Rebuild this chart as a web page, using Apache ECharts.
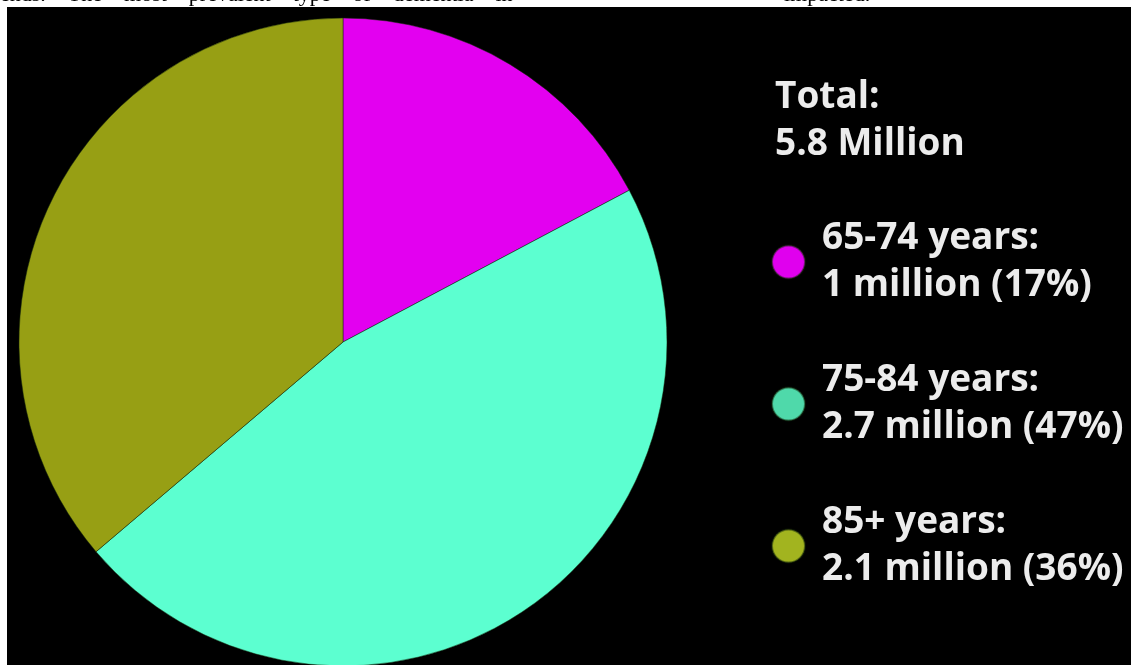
<!DOCTYPE html>
<html>
<head>
<meta charset="utf-8">
<script src="https://cdn.jsdelivr.net/npm/echarts@6/dist/echarts.min.js"></script>
<style>
html,body{margin:0;padding:0;background:#fff;}
#chart{width:1131px;height:665px;}
</style>
</head>
<body>
<div id="chart"></div>
<script>
// ---- data ----
const categories = ['65-74 years', '75-84 years', '85+ years'];
const valuesMillions = [1, 2.7, 2.1];
const valueLabels = ['1 million', '2.7 million', '2.1 million'];
const percentLabels = [17, 47, 36];
const totalLabel = '5.8 Million';
const sliceColors = ['#e300f0', '#5cffd0', '#979f14'];
const legendDotColors = ['#e000ee', '#4fd9aa', '#a2b41f'];

const chart = echarts.init(document.getElementById('chart'), null, {renderer: 'canvas'});

const textFont = '"Open Sans", Lato, sans-serif';

const option = {
  backgroundColor: '#ffffff',
  animation: false,
  title: {
    text: 'Total:\n' + totalLabel,
    left: 775,
    top: 74,
    padding: 0,
    textStyle: {
      color: '#ececec',
      fontFamily: textFont,
      fontWeight: 'bold',
      fontSize: 37,
      lineHeight: 47
    }
  },
  legend: {
    orient: 'vertical',
    left: 771,
    top: 215,
    padding: 0,
    icon: 'circle',
    itemWidth: 33,
    itemHeight: 33,
    itemGap: 48,
    selectedMode: false,
    data: categories.map((c, i) => ({name: c, itemStyle: {color: legendDotColors[i]}})),
    formatter: function (name) {
      const i = categories.indexOf(name);
      return name + ':\n' + valueLabels[i] + ' (' + percentLabels[i] + '%)';
    },
    textStyle: {
      color: '#ececec',
      fontFamily: textFont,
      fontWeight: 'bold',
      fontSize: 37,
      lineHeight: 47,
      padding: [0, 0, 0, 12]
    }
  },
  graphic: [
    {
      type: 'text', z: 0, left: 0, top: -16, silent: true,
      style: {text: 'ends.    The    most    prevalent    type    of    dementia    in', fill: '#000', font: '22px "Liberation Serif", serif'}
    },
    {
      type: 'text', z: 0, left: 784, top: -16, silent: true,
      style: {text: 'impacted.', fill: '#000', font: '22px "Liberation Serif", serif'}
    },
    {
      type: 'rect', z: 1, silent: true,
      shape: {x: 7, y: 7, width: 1124, height: 658},
      style: {fill: '#000000'}
    }
  ],
  series: [{
    type: 'pie',
    z: 5,
    center: [343, 342],
    radius: [0, 324],
    startAngle: 90,
    clockwise: true,
    label: {show: false},
    labelLine: {show: false},
    emphasis: {disabled: true},
    itemStyle: {borderColor: 'rgba(20,40,10,0.5)', borderWidth: 1},
    data: categories.map((c, i) => ({
      name: c,
      value: valuesMillions[i],
      itemStyle: {color: sliceColors[i]}
    }))
  }]
};
chart.setOption(option);
</script>
</body>
</html>
